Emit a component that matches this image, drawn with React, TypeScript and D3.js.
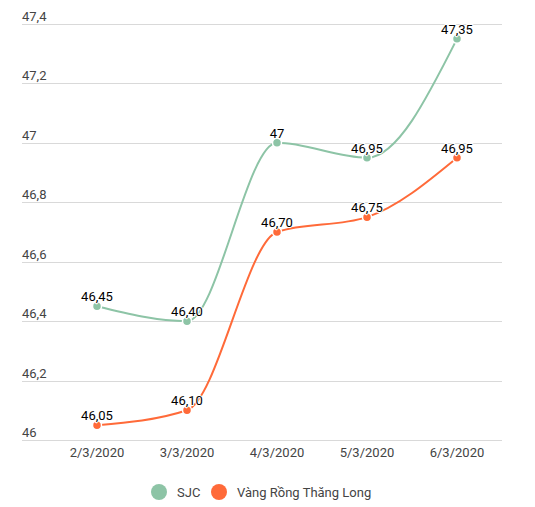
import { useEffect, useRef } from 'react';
import * as d3 from 'd3';

const dates = ['2/3/2020', '3/3/2020', '4/3/2020', '5/3/2020', '6/3/2020'];
const sjc = [46.45, 46.4, 47, 46.95, 47.35];
const rongThangLong = [46.05, 46.1, 46.7, 46.75, 46.95];
const yTicks = [46, 46.2, 46.4, 46.6, 46.8, 47, 47.2, 47.4];

const seriesList = [
    { name: 'SJC', values: sjc, color: '#8dc4a6' },
    { name: 'Vàng Rồng Thăng Long', values: rongThangLong, color: '#ff6a39' },
];

const W = 535;
const H = 507;
const FONT = 'Roboto, sans-serif';

// 46.5 -> "46,50", 47 -> "47"
const fmt = (v: number) => (Number.isInteger(v) ? String(v) : v.toFixed(2).replace('.', ','));
const fmtTick = (v: number) => String(+v.toFixed(1)).replace('.', ',');

export default function App() {
    const svgRef = useRef<SVGSVGElement>(null);

    useEffect(() => {
        if (!svgRef.current) return;
        const svg = d3.select(svgRef.current);
        svg.selectAll('*').remove();

        const x = d3.scaleBand<string>().domain(dates).range([52, 502]);
        const cx = (d: string) => (x(d) ?? 0) + x.bandwidth() / 2;
        const y = d3.scaleLinear().domain([46, 47.4]).range([440, 24]);

        // grid + y labels
        const grid = svg.append('g');
        grid.selectAll('line')
            .data(yTicks)
            .join('line')
            .attr('x1', 22)
            .attr('x2', 502)
            .attr('y1', d => Math.round(y(d)) + 0.5)
            .attr('y2', d => Math.round(y(d)) + 0.5)
            .attr('stroke', '#d9d9d9')
            .attr('stroke-width', 1);
        grid.selectAll('text')
            .data(yTicks)
            .join('text')
            .attr('x', 22)
            .attr('y', d => y(d) - 3)
            .attr('font-family', FONT)
            .attr('font-size', 13)
            .attr('fill', '#444')
            .text(d => fmtTick(d));

        // x labels
        svg.append('g')
            .selectAll('text')
            .data(dates)
            .join('text')
            .attr('x', d => cx(d))
            .attr('y', 457)
            .attr('text-anchor', 'middle')
            .attr('font-family', FONT)
            .attr('font-size', 13)
            .attr('fill', '#444')
            .text(d => d);

        const line = d3.line<number>()
            .x((_, i) => cx(dates[i]))
            .y(d => y(d))
            .curve(d3.curveMonotoneX);

        seriesList.forEach(s => {
            const g = svg.append('g');
            g.append('path')
                .attr('d', line(s.values))
                .attr('fill', 'none')
                .attr('stroke', s.color)
                .attr('stroke-width', 2);
            g.selectAll('circle')
                .data(s.values)
                .join('circle')
                .attr('cx', (_, i) => cx(dates[i]))
                .attr('cy', d => y(d))
                .attr('r', 4.5)
                .attr('fill', s.color)
                .attr('stroke', '#fff')
                .attr('stroke-width', 1.5);
        });

        // data labels on top
        seriesList.forEach(s => {
            svg.append('g')
                .selectAll('text')
                .data(s.values)
                .join('text')
                .attr('x', (_, i) => cx(dates[i]))
                .attr('y', d => y(d) - 5)
                .attr('text-anchor', 'middle')
                .attr('font-family', FONT)
                .attr('font-size', 13)
                .attr('fill', '#000')
                .attr('stroke', '#fff')
                .attr('stroke-width', 2)
                .attr('paint-order', 'stroke')
                .text(d => fmt(d));
        });

        // legend
        const legend = svg.append('g').attr('transform', 'translate(0,492)');
        const offsets = [159, 219];
        seriesList.forEach((s, i) => {
            legend.append('circle')
                .attr('cx', offsets[i])
                .attr('cy', 0)
                .attr('r', 8)
                .attr('fill', s.color);
            legend.append('text')
                .attr('x', offsets[i] + 18)
                .attr('y', 0)
                .attr('dy', '0.35em')
                .attr('font-family', FONT)
                .attr('font-size', 13)
                .attr('fill', '#444')
                .text(s.name);
        });
    }, []);

    return (
        <svg
            ref={svgRef}
            width={W}
            height={H}
            style={{ position: 'absolute', left: 0, top: 0, background: '#fff' }}
        />
    );
}
